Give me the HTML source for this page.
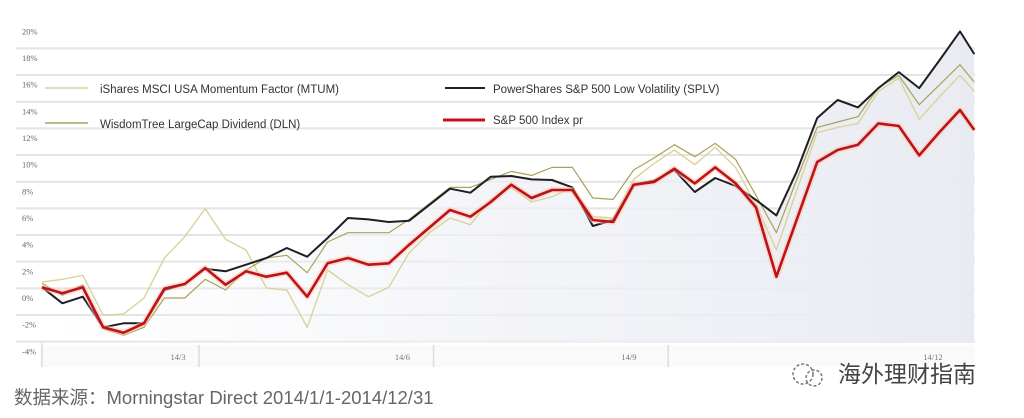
<!DOCTYPE html>
<html><head><meta charset="utf-8">
<style>
html,body{margin:0;padding:0;background:#fff;}
body{width:1024px;height:418px;overflow:hidden;position:relative;font-family:"Liberation Sans","Noto Sans CJK SC",sans-serif;}
svg{position:absolute;left:0;top:0;}
</style></head>
<body>
<svg id="chart" width="1024" height="418" viewBox="0 0 1024 418" xmlns="http://www.w3.org/2000/svg">
<defs>
<linearGradient id="fillg" x1="0" x2="1" y1="0" y2="0">
<stop offset="0" stop-color="#f4f5f8" stop-opacity="0"/>
<stop offset="0.45" stop-color="#f0f1f6" stop-opacity="0.7"/>
<stop offset="1" stop-color="#e9ebf2" stop-opacity="1"/>
</linearGradient>
</defs>
<g id="grid"></g>
<g id="yaxis"></g>
<g id="xaxis"></g>
<g id="area"></g>
<g id="series"></g>
<g font-size="11.5" fill="#333">
 <g><line x1="45" y1="88" x2="88" y2="88" stroke="#d9d39c" stroke-width="1.5"/><text x="100" y="93">iShares MSCI USA Momentum Factor (MTUM)</text></g>
 <g><line x1="45" y1="123" x2="88" y2="123" stroke="#aaa25a" stroke-width="1.5"/><text x="100" y="128">WisdomTree LargeCap Dividend (DLN)</text></g>
 <g><line x1="445" y1="88" x2="485" y2="88" stroke="#222" stroke-width="2"/><text x="493" y="93">PowerShares S&amp;P 500 Low Volatility (SPLV)</text></g>
 <g><line x1="443" y1="120" x2="485" y2="120" stroke="#c0101c" stroke-width="3"/><text x="493" y="124">S&amp;P 500 Index pr</text></g>
</g>
<text x="14" y="404" font-size="18.5" fill="#666">数据来源：Morningstar Direct 2014/1/1-2014/12/31</text>
<g>
 <circle cx="803" cy="374" r="10" fill="none" stroke="#777" stroke-width="1.5" stroke-dasharray="3 2"/>
 <circle cx="814" cy="378" r="8" fill="none" stroke="#777" stroke-width="1.5" stroke-dasharray="3 2"/>
 <text x="838" y="382" font-size="23" fill="#444">海外理财指南</text>
</g>
</svg>
<script>
const weeks=[0,1,2,3,4,5,6,7,8,9,10,11,12,13,14,15,16,17,18,19,20,21,22,23,24,25,26,27,28,29,30,31,32,33,34,35,36,37,38,39,40,41,42,43,44,45,45.7];
const splv=[0.8,-0.4,0.1,-2.2,-1.9,-1.9,0.6,1.05,2.2,2.0,2.5,3.0,3.75,3.1,4.5,6.0,5.9,5.7,5.8,7.0,8.2,7.9,9.1,9.15,8.9,8.85,8.3,5.4,5.85,8.5,8.8,9.6,7.95,9.0,8.4,7.35,6.2,9.5,13.5,14.85,14.3,15.75,16.95,15.75,17.85,20.0,18.3];
const sp500=[0.8,0.35,0.8,-2.2,-2.6,-1.9,0.7,1.05,2.25,1.0,2.0,1.6,1.9,0.1,2.6,3.0,2.5,2.6,4.0,5.3,6.6,6.1,7.2,8.5,7.5,8.1,8.1,5.85,5.7,8.5,8.7,9.7,8.6,9.8,8.6,6.8,1.6,5.9,10.2,11.1,11.5,13.1,12.9,10.7,12.45,14.1,12.6];
const dln=[1.1,0.2,1.0,-2.3,-2.8,-2.2,0,0,1.4,0.6,2.1,3.0,3.2,1.9,4.2,4.9,4.9,4.9,5.9,7.1,8.3,8.3,8.9,9.5,9.2,9.8,9.8,7.5,7.4,9.6,10.5,11.5,10.6,11.6,10.4,7.7,4.9,8.9,12.8,13.2,13.6,15.8,16.7,14.5,16.0,17.5,16.2];
const mtum=[1.2,1.4,1.7,-1.3,-1.2,0,3.0,4.6,6.7,4.4,3.6,0.75,0.6,-2.2,2.1,1.0,0.1,0.8,3.4,4.9,6.0,5.5,7.4,8.3,7.2,7.6,8.3,6.1,6.0,8.9,10.1,11.1,10.0,11.3,9.8,7.0,3.6,8.1,12.4,12.8,13.1,15.5,16.5,13.4,15.1,16.7,15.5];
const yTicks=[20,18,16,14,12,10,8,6,4,2,0,-2,-4];
const xTickLabels=["14/3","14/6","14/9","14/12"];
const xTickWeeks=[6.3,17.3,28.4,43.2];
const xLineWeeks=[7.5,19,30.5];

const NS="http://www.w3.org/2000/svg";
const xS=w=>42+w*20.4;
const yS=v=>298-v*13.33;
function mk(tag,attrs,parent){const e=document.createElementNS(NS,tag);for(const k in attrs)e.setAttribute(k,attrs[k]);parent.appendChild(e);return e;}
const grid=document.getElementById('grid'),ya=document.getElementById('yaxis'),xa=document.getElementById('xaxis');
yTicks.forEach((t,i)=>{
  const lbl=mk('text',{x:22,y:yS(t)+3,'font-size':8.5,fill:'#666','font-family':'Liberation Serif, serif'},ya);
  
  
  lbl.textContent=t+'%';
  if(i<yTicks.length-1){
    const g=mk('line',{x1:16,x2:975,y1:yS(t)+17,y2:yS(t)+17,stroke:'#e4e4e4','stroke-width':2},grid);
    
    
  }
});
const ax=mk('rect',{x:40,y:345,width:935,height:22,fill:'#fafafa'},xa);


mk('line',{x1:42,x2:42,y1:343,y2:367,stroke:'#ddd','stroke-width':1.5},xa);
xLineWeeks.forEach(w=>{
  const l=mk('line',{x1:xS(w)+4,x2:xS(w)+4,y1:345,y2:367,stroke:'#ddd','stroke-width':1.5},xa);
  
  
});
xTickLabels.forEach((s,i)=>{
  const t=mk('text',{x:xS(xTickWeeks[i]),y:360,'font-size':8.5,fill:'#777','font-family':'Liberation Serif, serif'},xa);
  
  
  t.textContent=s;
});
function pts(arr){return arr.map((v,i)=>xS(weeks[i]).toFixed(1)+','+yS(v).toFixed(1)).join(' ');}
const area=document.getElementById('area');
const ap=mk('polygon',{points:pts(splv)+' '+xS(weeks[weeks.length-1])+',343 '+xS(0)+',343',fill:'url(#fillg)'},area);


const S=document.getElementById('series');
const defs=[[mtum,'#d9d39c',1.4,'line-mtum'],[dln,'#aaa25a',1.2,'line-dln'],[splv,'#1e1e24',2,'line-splv']];
defs.forEach(d=>{
  const l=mk('polyline',{points:pts(d[0]),fill:'none',stroke:d[1],'stroke-width':d[2],'stroke-linejoin':'round'},S);
  
  
});
const glow=mk('polyline',{points:pts(sp500),fill:'none',stroke:'#f7c8a8','stroke-width':6,'stroke-linejoin':'round','stroke-opacity':0.5},S);


const red=mk('polyline',{points:pts(sp500),fill:'none',stroke:'#c0101c','stroke-width':2.6,'stroke-linejoin':'round'},S);


</script>
</body></html>
